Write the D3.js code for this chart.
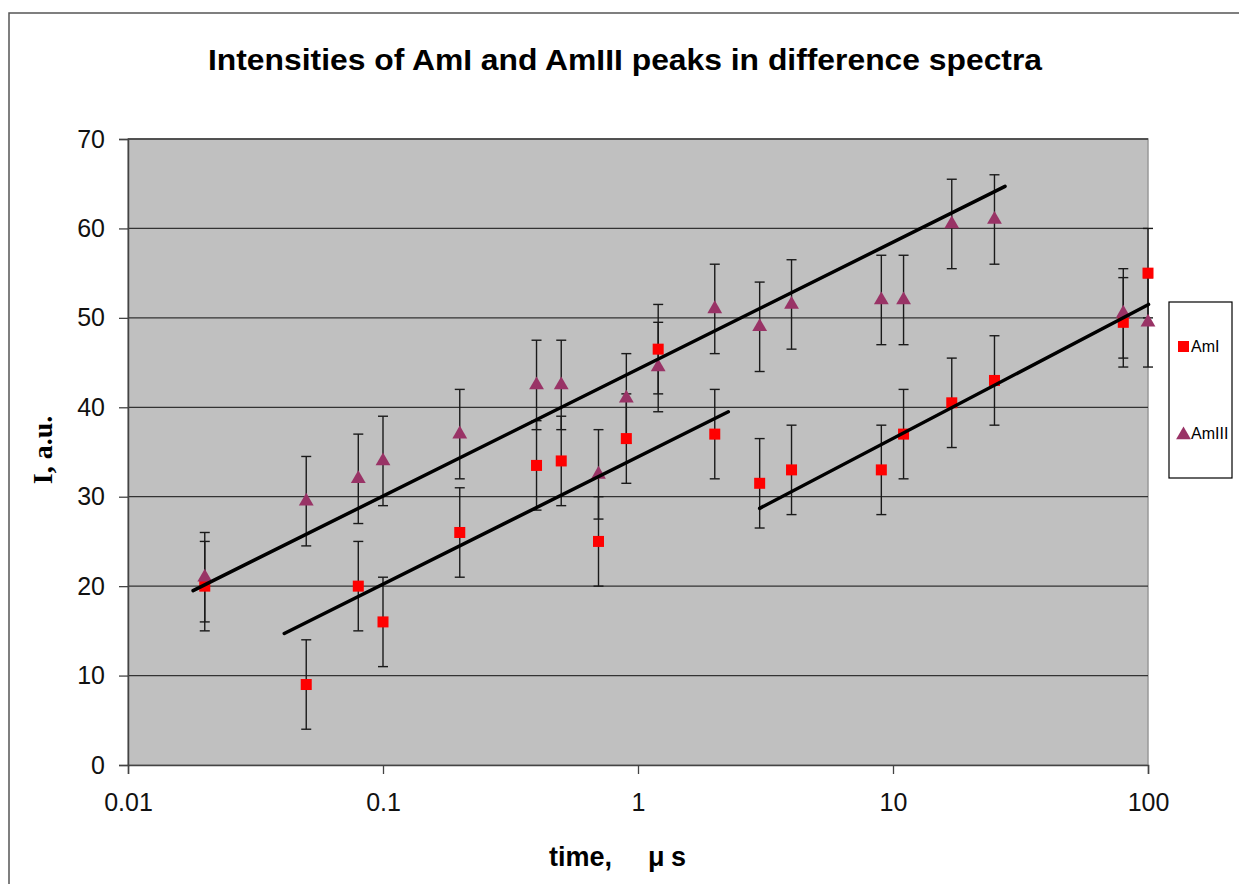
<!DOCTYPE html>
<html>
<head>
<meta charset="utf-8">
<script src="https://cdn.jsdelivr.net/npm/d3@7/dist/d3.min.js"></script>
<style>
  html, body { margin: 0; padding: 0; background: #fff; }
  svg { display: block; }
</style>
</head>
<body>
<svg id="chart" width="1239" height="884"></svg>
<script>
// ---------- data ----------
const times = [0.02, 0.05, 0.08, 0.1, 0.2, 0.4, 0.5, 0.7, 0.9, 1.2, 2, 3, 4, 9, 11, 17, 25, 80, 100];
const amI   = [20, 9, 20, 16, 26, 33.5, 34, 25, 36.5, 46.5, 37, 31.5, 33, 33, 37, 40.5, 43, 49.5, 55];
const amIII = [21, 29.5, 32, 34, 37, 42.5, 42.5, 32.5, 41, 44.5, 51, 49, 51.5, 52, 52, 60.5, 61, 50.5, 49.5];
const errAmI   = [5, 5, 5, 5, 5, 5, 5, 5, 5, 5, 5, 5, 5, 5, 5, 5, 5, 5, 5];
const errAmIII = [5, 5, 5, 5, 5, 5, 5, 5, 5, 5, 5, 5, 5, 5, 5, 5, 5, 5, 5];
// trend lines (endpoints in data units)
const trendAmIII_x = [0.018, 27.5],  trendAmIII_y = [19.5, 64.7];
const trendAmIa_x  = [0.041, 2.26],  trendAmIa_y  = [14.7, 39.5];
const trendAmIb_x  = [3.0, 100.5],   trendAmIb_y  = [28.7, 51.5];
const xTicks = [0.01, 0.1, 1, 10, 100];
const xTickLabels = ["0.01", "0.1", "1", "10", "100"];
const yTicks = [0, 10, 20, 30, 40, 50, 60, 70];
const seriesNames = ["AmI", "AmIII"];
const titleText = "Intensities of AmI and AmIII peaks in difference spectra";

// ---------- layout ----------
const svg = d3.select("#chart");
const P = { left: 128, right: 1148, top: 139, bottom: 765 };
const x = d3.scaleLog().domain([0.01, 100]).range([P.left, P.right]);
const y = d3.scaleLinear().domain([0, 70]).range([P.bottom, P.top]);

// outer chart border
svg.append("rect").attr("x", 9).attr("y", 13).attr("width", 1260).attr("height", 900)
  .attr("fill", "#fff").attr("stroke", "#555").attr("stroke-width", 1.5);

// plot area
svg.append("rect").attr("x", P.left).attr("y", P.top)
  .attr("width", P.right - P.left).attr("height", P.bottom - P.top)
  .attr("fill", "#c0c0c0").attr("stroke", "#999").attr("stroke-width", 1.5);

// gridlines
svg.append("g").selectAll("line").data(yTicks.filter(d => d > 0)).join("line")
  .attr("x1", P.left).attr("x2", P.right)
  .attr("y1", d => y(d)).attr("y2", d => y(d))
  .attr("stroke", "#333").attr("stroke-width", 1.3);

// axes
const xAxis = d3.axisBottom(x).tickValues(xTicks).tickFormat((d, i) => xTickLabels[i]).tickSize(9).tickPadding(14);
const gx = svg.append("g").attr("transform", `translate(0,${P.bottom})`).call(xAxis);
const yAxis = d3.axisLeft(y).tickValues(yTicks).tickFormat(d3.format("d")).tickSize(9).tickPadding(14);
const gy = svg.append("g").attr("transform", `translate(${P.left},0)`).call(yAxis);
[gx, gy].forEach(g => {
  g.select(".domain").attr("stroke", "#444").attr("stroke-width", 1.5);
  g.selectAll(".tick line").attr("stroke", "#444").attr("stroke-width", 1.3);
  g.selectAll("text").attr("font-family", "Liberation Sans, Arial, sans-serif")
    .attr("font-size", 25).attr("fill", "#111");
});
gx.selectAll(".tick text").attr("dy", "0.9em");

// error bars
function errorBars(vals, errs) {
  const g = svg.append("g").attr("stroke", "#1a1a1a").attr("stroke-width", 1.4);
  times.forEach((t, i) => {
    const cx = x(t), y1 = y(vals[i] - errs[i]), y2 = y(vals[i] + errs[i]);
    g.append("line").attr("x1", cx).attr("x2", cx).attr("y1", y1).attr("y2", y2);
    g.append("line").attr("x1", cx - 5).attr("x2", cx + 5).attr("y1", y1).attr("y2", y1);
    g.append("line").attr("x1", cx - 5).attr("x2", cx + 5).attr("y1", y2).attr("y2", y2);
  });
}
errorBars(amI, errAmI);
errorBars(amIII, errAmIII);

// markers
const sq = 11;
svg.append("g").selectAll("rect").data(times).join("rect")
  .attr("x", (d) => x(d) - sq / 2).attr("y", (d, i) => y(amI[i]) - sq / 2)
  .attr("width", sq).attr("height", sq).attr("fill", "#ff0000");
const tri = d3.symbol().type(d3.symbolTriangle).size(95);
svg.append("g").selectAll("path").data(times).join("path")
  .attr("d", tri)
  .attr("transform", (d, i) => `translate(${x(d)},${y(amIII[i])})`)
  .attr("fill", "#993366");

// trend lines
const line = d3.line().x(d => x(d[0])).y(d => y(d[1]));
[[trendAmIII_x, trendAmIII_y], [trendAmIa_x, trendAmIa_y], [trendAmIb_x, trendAmIb_y]].forEach(([tx, ty]) => {
  svg.append("path").datum(tx.map((v, i) => [v, ty[i]]))
    .attr("d", line).attr("fill", "none").attr("stroke", "#000")
    .attr("stroke-width", 3.5).attr("stroke-linecap", "round");
});

// title
svg.append("text").attr("x", 208).attr("y", 70)
  .attr("font-family", "Liberation Sans, Arial, sans-serif").attr("font-weight", "bold")
  .attr("font-size", 30).attr("textLength", 834).attr("lengthAdjust", "spacingAndGlyphs")
  .attr("fill", "#000").text(titleText);

// axis titles
const xt = svg.append("text").attr("y", 866)
  .attr("font-family", "Liberation Sans, Arial, sans-serif").attr("font-weight", "bold")
  .attr("font-size", 27).attr("fill", "#000");
xt.append("tspan").attr("x", 549).text("time,");
xt.append("tspan").attr("x", 648).text("μ");
xt.append("tspan").attr("x", 671).text("s");

svg.append("text").attr("transform", "translate(52,450) rotate(-90)")
  .attr("text-anchor", "middle")
  .attr("font-family", "Liberation Serif, Times New Roman, serif").attr("font-weight", "bold")
  .attr("font-size", 28).attr("fill", "#000").text("I, a.u.");

// legend
const lg = svg.append("g");
lg.append("rect").attr("x", 1169).attr("y", 302).attr("width", 63).attr("height", 176)
  .attr("fill", "#fff").attr("stroke", "#000").attr("stroke-width", 1.2);
lg.append("rect").attr("x", 1178).attr("y", 341).attr("width", 11).attr("height", 11).attr("fill", "#ff0000");
lg.append("path").attr("d", tri).attr("transform", "translate(1183.5,435)").attr("fill", "#993366");
lg.selectAll("text.leg").data(seriesNames).join("text").attr("class", "leg")
  .attr("x", 1191).attr("y", (d, i) => i === 0 ? 352 : 439)
  .attr("font-family", "Liberation Sans, Arial, sans-serif").attr("font-size", 16)
  .attr("fill", "#000").text(d => d);
</script>
</body>
</html>
